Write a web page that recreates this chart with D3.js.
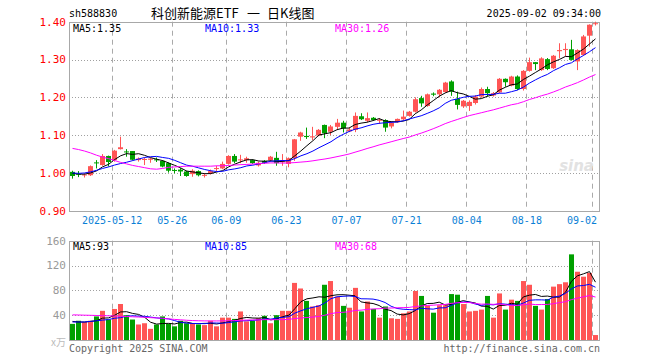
<!DOCTYPE html>
<html><head><meta charset="utf-8">
<script src="https://cdn.jsdelivr.net/npm/d3@7"></script>
<style>body{margin:0;background:#fff}svg{display:block}</style>
</head><body>
<svg id="c" width="660" height="360"></svg>
<script>
// ---------- data ----------
const dates = ["04-28","04-29","04-30","05-06","05-07","05-08","05-09",
"05-12","05-13","05-14","05-15","05-16","05-19","05-20","05-21","05-22","05-23",
"05-26","05-27","05-28","05-29","05-30","06-03","06-04","06-05","06-06",
"06-09","06-10","06-11","06-12","06-13","06-16","06-17","06-18","06-19","06-20",
"06-23","06-24","06-25","06-26","06-27","06-30","07-01","07-02","07-03","07-04",
"07-07","07-08","07-09","07-10","07-11","07-14","07-15","07-16","07-17","07-18",
"07-21","07-22","07-23","07-24","07-25","07-28","07-29","07-30","07-31","08-01",
"08-04","08-05","08-06","08-07","08-08","08-11","08-12","08-13","08-14","08-15",
"08-18","08-19","08-20","08-21","08-22","08-25","08-26","08-27","08-28","08-29",
"09-01","09-02"];
const open = [1.003,0.998,0.994,0.994,1.028,1.021,1.045,1.034,1.063,1.057,
1.058,1.034,1.035,1.035,1.036,1.032,1.026,1.008,1.009,1.004,
0.997,1.005,0.993,0.999,1.011,1.012,1.024,1.045,1.034,1.034,
1.034,1.020,1.032,1.034,1.040,1.029,1.024,1.039,1.096,1.098,
1.094,1.099,1.127,1.109,1.122,1.133,1.110,1.114,1.150,1.138,
1.146,1.138,1.140,1.123,1.134,1.142,1.151,1.162,1.198,1.177,
1.210,1.208,1.214,1.242,1.196,1.176,1.177,1.185,1.202,1.222,
1.205,1.213,1.249,1.231,1.255,1.222,1.270,1.293,1.272,1.301,
1.277,1.322,1.325,1.327,1.295,1.312,1.363,1.394];
const high = [1.006,1.005,0.998,1.020,1.034,1.050,1.046,1.061,1.096,1.063,
1.058,1.041,1.041,1.040,1.041,1.034,1.028,1.012,1.013,1.006,
1.010,1.007,0.999,1.009,1.019,1.030,1.047,1.050,1.048,1.043,
1.036,1.030,1.034,1.045,1.056,1.050,1.041,1.090,1.109,1.120,
1.122,1.116,1.128,1.127,1.143,1.138,1.120,1.160,1.158,1.160,
1.148,1.145,1.142,1.135,1.144,1.165,1.164,1.200,1.204,1.210,
1.213,1.222,1.241,1.245,1.215,1.193,1.192,1.206,1.226,1.228,
1.214,1.251,1.250,1.257,1.258,1.272,1.305,1.293,1.306,1.304,
1.312,1.343,1.343,1.352,1.327,1.365,1.393,1.400];
const low = [0.985,0.989,0.988,0.992,1.012,1.019,1.017,1.030,1.062,1.043,
1.033,1.030,1.021,1.027,1.029,1.015,1.001,0.999,0.992,0.990,
0.990,0.991,0.988,0.996,1.005,1.010,1.022,1.026,1.026,1.027,
1.024,1.017,1.024,1.030,1.019,1.019,1.015,1.032,1.085,1.090,
1.087,1.097,1.092,1.100,1.115,1.107,1.108,1.108,1.140,1.134,
1.138,1.130,1.109,1.118,1.133,1.140,1.149,1.160,1.175,1.175,
1.203,1.200,1.212,1.204,1.168,1.172,1.164,1.181,1.199,1.202,
1.202,1.211,1.228,1.229,1.219,1.218,1.268,1.272,1.270,1.272,
1.275,1.303,1.308,1.297,1.272,1.310,1.334,1.390];
const close = [0.992,0.996,0.996,1.018,1.026,1.045,1.029,1.059,1.068,1.055,
1.035,1.038,1.037,1.038,1.034,1.017,1.006,1.006,1.004,0.992,
1.006,0.994,0.995,1.005,1.013,1.024,1.045,1.030,1.036,1.039,
1.026,1.027,1.027,1.043,1.026,1.031,1.039,1.089,1.107,1.095,
1.097,1.114,1.105,1.123,1.133,1.118,1.115,1.151,1.142,1.145,
1.140,1.141,1.120,1.133,1.143,1.149,1.162,1.195,1.184,1.208,
1.207,1.220,1.239,1.215,1.180,1.191,1.188,1.202,1.222,1.211,
1.211,1.249,1.240,1.255,1.222,1.270,1.293,1.288,1.303,1.275,
1.310,1.325,1.328,1.299,1.325,1.361,1.392,1.396];
const volume = [26,31,29,31,38,47,33,50,58,40,
33,25,27,18,25,38,26,22,31,27,
27,25,24,31,22,36,36,34,46,30,
31,35,39,27,40,47,47,92,83,63,
54,56,89,95,70,55,52,84,46,62,
50,36,54,35,34,43,46,79,71,55,
44,56,56,74,73,58,46,47,49,71,
36,75,49,65,63,95,89,55,49,66,
86,90,93,138,110,102,108,8];
const ma5Head = [0.999,0.997,0.997,1.000];
const ma10Head = [1.000,0.999,1.000,1.003,1.007,1.012,1.016,1.021,1.025];
const ma30Head = [1.065,1.062,1.058,1.053,1.047,1.042,1.038,1.033,1.028,1.024,
1.020,1.017,1.014,1.011,1.010,1.012,1.015,1.016,1.017,1.018,
1.018,1.018,1.018,1.018,1.019,1.019,1.020,1.021,1.022];
const vma5Head = [30,29,29,30];
const vma10Head = [29,29,29,30,31,32,33,35,36];
const vma30Head = [40.5,40.3,40,39.8,39.5,39.2,39,38.6,38.2,37.8,
37.4,37,36.6,36,35.5,35,34,33.2,32.5,31.8,
31.3,31,30.8,30.7,30.7,30.8,31,31.3,31.7];
const priceTicks = ["0.90","1.00","1.10","1.20","1.30","1.40"];
const volTicks = ["40","80","120","160"];
const tickDates = ["05-12","05-26","06-09","06-23","07-07","07-21","08-04","08-18","09-02"];
const tickLabels = ["2025-05-12","05-26","06-09","06-23","07-07","07-21","08-04","08-18","09-02"];
const maLegend = ["MA5:1.35","MA10:1.33","MA30:1.26"];
const volLegend = ["MA5:93","MA10:85","MA30:68"];
const code = "sh588830";
const titleParts = ["科创新能源ETF", "一", "日K线图"];
const stamp = "2025-09-02 09:34:00";

// ---------- layout ----------
const L = 69, R = 599;
const mTop = 21.7, mBot = 210.8;
const vTop = 240.7, vBot = 340;
const RED = "#ff5555", GREEN = "#00a000";
const maColors = ["#000000", "#0000ff", "#ff00ff"];
const MONO = "'DejaVu Sans Mono', 'Liberation Mono', monospace";
const CJK = "'Noto Sans CJK SC', sans-serif";

const svg = d3.select("#c");
svg.append("rect").attr("width", 660).attr("height", 360).attr("fill", "#fff");

const x = d3.scaleBand().domain(dates).range([69.5, 598.5]).padding(0);
const step = x.step();
const cx = d => x(d) + step / 2;
const y = d3.scaleLinear().domain([0.9, 1.4]).range([mBot, mTop]);
const yv = d3.scaleLinear().domain([0, 160]).range([vBot, vTop]);

function movAvg(arr, n, head) {
  return arr.map((_, i) => i < n - 1 ? head[i] : d3.mean(arr.slice(i - n + 1, i + 1)));
}

// ---------- grids ----------
function grid(yScale, top, bot, hVals) {
  const g = svg.append("g");
  g.selectAll(".h").data(hVals).join("line")
    .attr("x1", L).attr("x2", R)
    .attr("y1", d => Math.round(yScale(d)) + 0.5).attr("y2", d => Math.round(yScale(d)) + 0.5)
    .attr("stroke", "#a0a0a0").attr("stroke-dasharray", "1,2");
  g.selectAll(".v").data(tickDates).join("line")
    .attr("x1", d => Math.round(x(d)) + 0.5).attr("x2", d => Math.round(x(d)) + 0.5)
    .attr("y1", top).attr("y2", bot)
    .attr("stroke", "#aaaaaa").attr("stroke-dasharray", "5,4");
  g.append("rect").attr("x", L + 0.5).attr("y", Math.round(top) + 0.5)
    .attr("width", R - L).attr("height", Math.round(bot) - Math.round(top))
    .attr("fill", "none").attr("stroke", "#a8a8a8");
}
grid(y, mTop, mBot, priceTicks.slice(1, -1).map(Number));
grid(yv, vTop, vBot, volTicks.slice(0, -1).map(Number));

// watermark
svg.append("text").attr("x", 594).attr("y", 171).attr("text-anchor", "end")
  .attr("font-family", "'DejaVu Sans', sans-serif").attr("font-style", "italic").attr("font-weight", "bold")
  .attr("font-size", 15).attr("fill", "#e2e2e2").text("sina");

// ---------- axis labels ----------
svg.append("g").selectAll("text").data(priceTicks).join("text")
  .attr("x", 66).attr("y", d => y(+d)).attr("dy", "0.35em").attr("text-anchor", "end")
  .attr("font-family", MONO).attr("font-size", 11).attr("fill", "#ff0000").text(d => d);
svg.append("g").selectAll("text").data(volTicks).join("text")
  .attr("x", 66).attr("y", d => yv(+d)).attr("dy", "0.35em").attr("text-anchor", "end")
  .attr("font-family", MONO).attr("font-size", 11).attr("fill", "#999999").text(d => d);
svg.append("text").attr("x", 66).attr("y", 342).attr("dy", "0.35em").attr("text-anchor", "end")
  .attr("font-family", CJK).attr("font-size", 10).attr("fill", "#bbbbbb").text("x万");

svg.append("g").selectAll("text").data(tickDates).join("text")
  .attr("x", (d, i) => {
    const w = tickLabels[i].length * 6.02;
    let c = x(d) + 0.5;
    if (c + w / 2 > R - 2) c = R - 2 - w / 2;
    return c;
  })
  .attr("y", 220.5).attr("dy", "0.35em").attr("text-anchor", "middle")
  .attr("font-family", MONO).attr("font-size", 10).attr("fill", "#0a7fd6")
  .text((d, i) => tickLabels[i]);

// ---------- candles ----------
const idx = d3.range(dates.length);
const cg = svg.append("g");
cg.selectAll("line").data(idx).join("line")
  .attr("x1", i => Math.round(cx(dates[i]) - 2.5) + 2.5).attr("x2", i => Math.round(cx(dates[i]) - 2.5) + 2.5)
  .attr("y1", i => y(high[i])).attr("y2", i => y(low[i]))
  .attr("stroke", i => close[i] >= open[i] ? RED : GREEN);
cg.selectAll("rect").data(idx).join("rect")
  .attr("x", i => Math.round(cx(dates[i]) - 2.5)).attr("width", 5)
  .attr("y", i => y(Math.max(open[i], close[i])))
  .attr("height", i => Math.max(1, Math.abs(y(open[i]) - y(close[i]))))
  .attr("fill", i => close[i] >= open[i] ? RED : GREEN);

// ---------- volume ----------
svg.append("g").selectAll("rect").data(idx).join("rect")
  .attr("x", i => Math.round(cx(dates[i]) - 2.5)).attr("width", 5)
  .attr("y", i => yv(volume[i])).attr("height", i => vBot - yv(volume[i]))
  .attr("fill", i => close[i] >= open[i] ? RED : GREEN);

// ---------- moving averages ----------
const priceMA = [movAvg(close, 5, ma5Head), movAvg(close, 10, ma10Head), movAvg(close, 30, ma30Head)];
const volMA = [movAvg(volume, 5, vma5Head), movAvg(volume, 10, vma10Head), movAvg(volume, 30, vma30Head)];
const lineP = d3.line().x((d, i) => cx(dates[i])).y(d => y(d));
const lineV = d3.line().x((d, i) => cx(dates[i])).y(d => yv(d));
priceMA.forEach((s, k) => svg.append("path").attr("d", lineP(s)).attr("fill", "none")
  .attr("stroke", maColors[k]).attr("stroke-width", 1));
volMA.forEach((s, k) => svg.append("path").attr("d", lineV(s)).attr("fill", "none")
  .attr("stroke", maColors[k]).attr("stroke-width", 1));

// ---------- legends & header ----------
const legX = [73, 205, 335];
maLegend.forEach((t, k) => svg.append("text").attr("x", legX[k]).attr("y", 28).attr("dy", "0.35em")
  .attr("font-family", MONO).attr("font-size", 10).attr("fill", maColors[k]).text(t));
volLegend.forEach((t, k) => svg.append("text").attr("x", legX[k]).attr("y", 246).attr("dy", "0.35em")
  .attr("font-family", MONO).attr("font-size", 10).attr("fill", maColors[k]).text(t));

svg.append("text").attr("x", 69).attr("y", 13).attr("dy", "0.35em")
  .attr("font-family", MONO).attr("font-size", 10).attr("fill", "#000").text(code);
const titleX = [151, 247, 267];
const title = svg.append("text").attr("y", 13).attr("dy", "0.35em")
  .attr("font-family", CJK).attr("font-size", 13).attr("fill", "#000");
titleParts.forEach((t, k) => title.append("tspan").attr("x", titleX[k]).text(t));
svg.append("text").attr("x", 601).attr("y", 13).attr("dy", "0.35em").attr("text-anchor", "end")
  .attr("font-family", MONO).attr("font-size", 10).attr("fill", "#000").text(stamp);

svg.append("text").attr("x", 69).attr("y", 348).attr("dy", "0.35em")
  .attr("font-family", MONO).attr("font-size", 10).attr("fill", "#666").text("Copyright 2025 SINA.COM");
svg.append("text").attr("x", 600).attr("y", 348).attr("dy", "0.35em").attr("text-anchor", "end")
  .attr("font-family", MONO).attr("font-size", 10).attr("fill", "#666").text("http://finance.sina.com.cn");
</script>
</body></html>
